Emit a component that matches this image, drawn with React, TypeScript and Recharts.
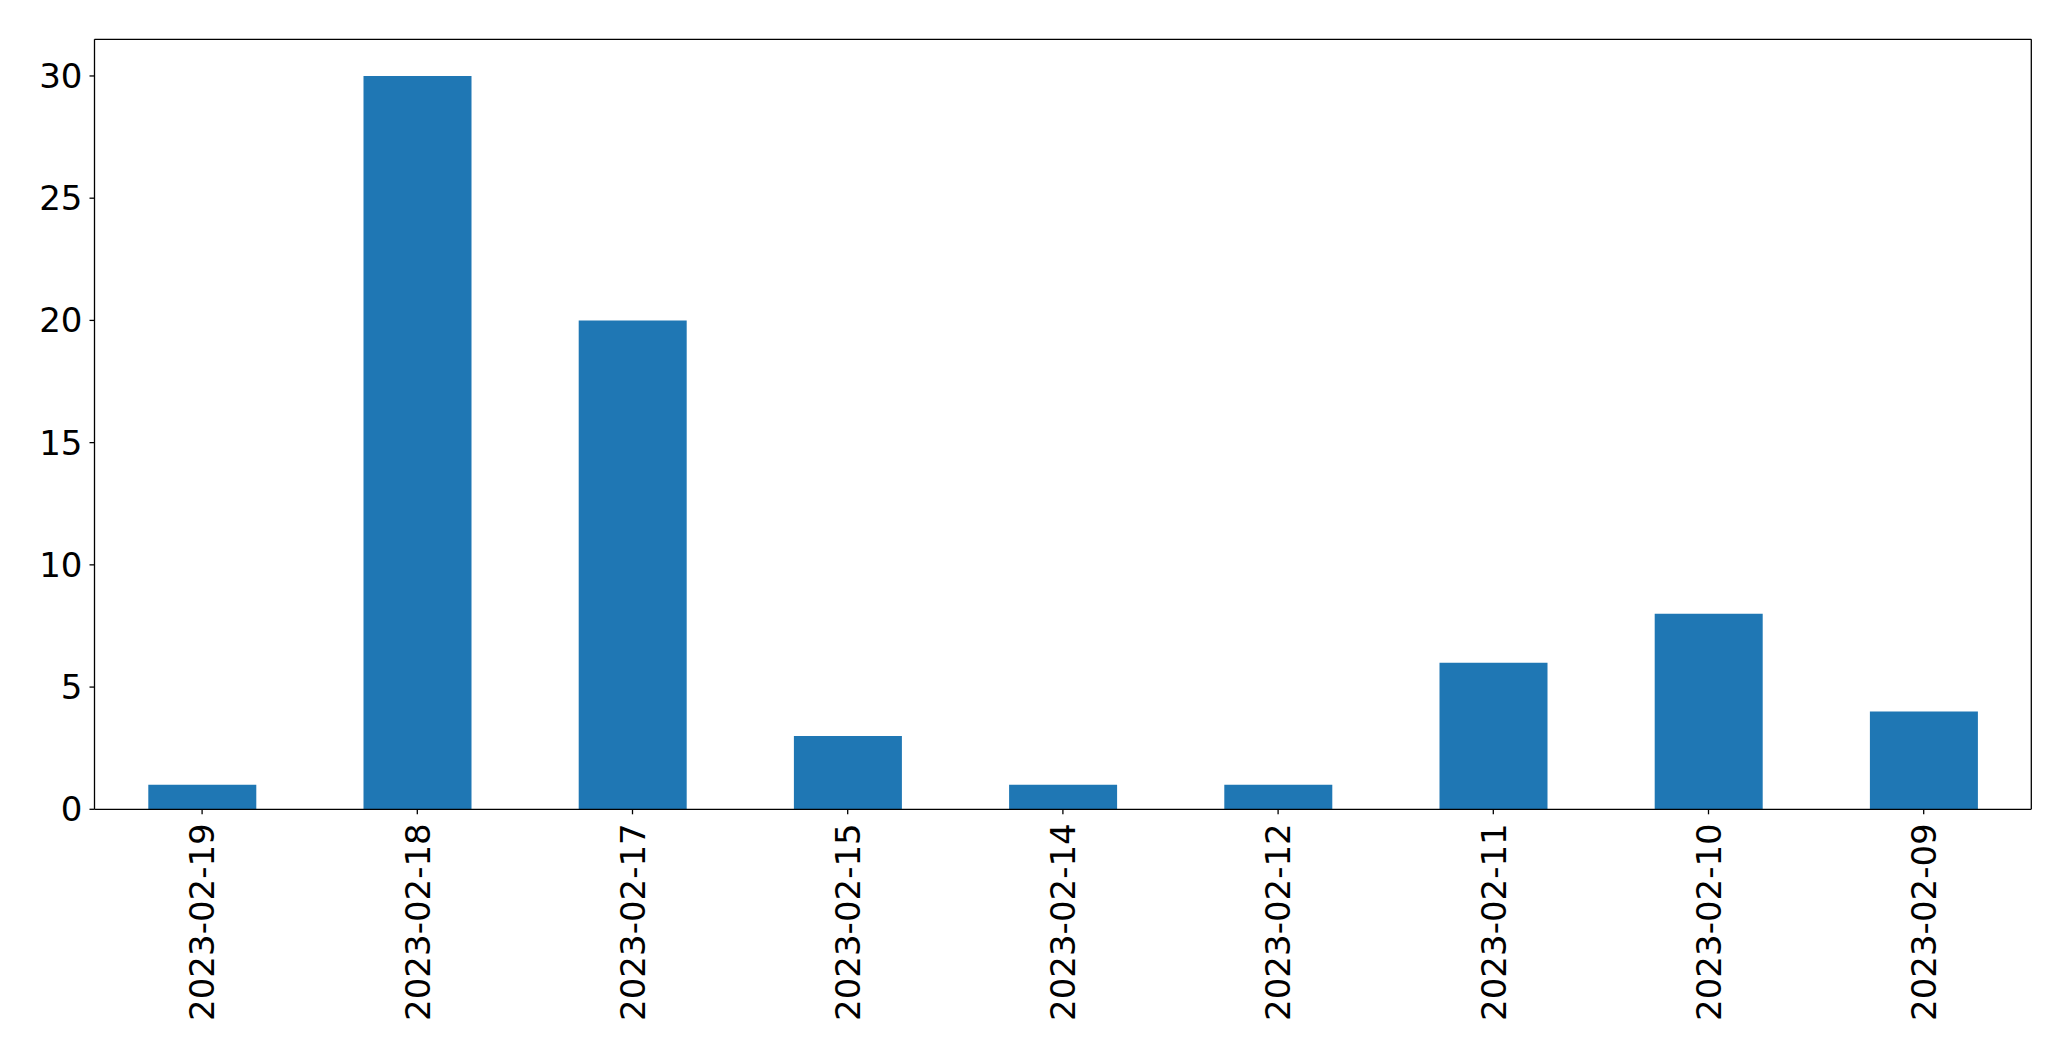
import { BarChart, Bar, XAxis, YAxis } from "recharts";

const dates = [
  "2023-02-19",
  "2023-02-18",
  "2023-02-17",
  "2023-02-15",
  "2023-02-14",
  "2023-02-12",
  "2023-02-11",
  "2023-02-10",
  "2023-02-09",
];
const counts = [1, 30, 20, 3, 1, 1, 6, 8, 4];
const yTicks = [0, 5, 10, 15, 20, 25, 30];

const data = dates.map((d, i) => ({ date: d, count: counts[i] }));

const FONT = "DejaVu Sans";
const AXIS = { stroke: "#000", strokeWidth: 1.3 };

function DateTick(props: any) {
  const { x, y, payload } = props;
  return (
    <text
      x={x}
      y={y}
      dy="0.36em"
      textAnchor="end"
      transform={`rotate(-90, ${x}, ${y})`}
      fontSize={34}
      fontFamily={FONT}
      fill="#000"
    >
      {payload.value}
    </text>
  );
}

export default function App() {
  return (
    <div style={{ position: "absolute", left: 0, top: 0, background: "#fff" }}>
      <BarChart
        width={2071}
        height={1061}
        data={data}
        margin={{ top: 38.3, right: 38.7, bottom: 0, left: 0 }}
        barCategoryGap="25%"
      >
        <XAxis
          dataKey="date"
          interval={0}
          height={251.7}
          axisLine={AXIS}
          tickLine={{ stroke: "#000", strokeWidth: 1.3 }}
          tickSize={5}
          tickMargin={9}
          tick={<DateTick />}
        />
        <XAxis xAxisId="top" dataKey="date" orientation="top" height={1} tick={false} tickLine={false} axisLine={AXIS} />
        <YAxis
          domain={[0, 31.5]}
          ticks={yTicks}
          width={94.5}
          axisLine={AXIS}
          tickLine={{ stroke: "#000", strokeWidth: 1.3 }}
          tickSize={5}
          tickMargin={7}
          tick={{ fontSize: 34, fontFamily: FONT, fill: "#000" }}
          allowDataOverflow
        />
        <YAxis yAxisId="right" orientation="right" width={1} tick={false} tickLine={false} axisLine={AXIS} />
        <Bar dataKey="count" fill="#1f77b4" isAnimationActive={false} />
      </BarChart>
    </div>
  );
}
